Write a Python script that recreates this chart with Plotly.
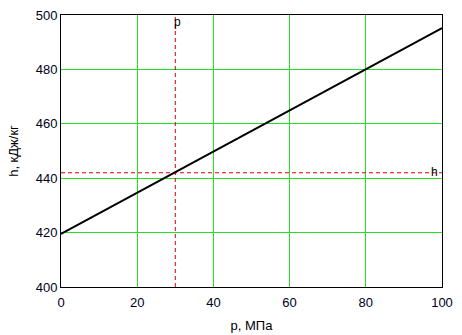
import plotly.graph_objects as go

# data
p_vals = [0, 20, 40, 60, 80, 100]
h_vals = [419.5, 434.6, 449.8, 464.9, 480.0, 495.2]
p_mark = 30
h_mark = 442
x_ticks = [0, 20, 40, 60, 80, 100]
y_ticks = [400, 420, 440, 460, 480, 500]

RED = "#dd0000"
GRID = "#22e022"
FONT = "Liberation Sans, Arial, sans-serif"

fig = go.Figure()
fig.add_trace(go.Scatter(x=[p_mark, p_mark], y=[400, 500], mode="lines",
                         line=dict(color=RED, width=1, dash="4px,3px"), hoverinfo="skip"))
fig.add_trace(go.Scatter(x=[0, 100], y=[h_mark, h_mark], mode="lines",
                         line=dict(color=RED, width=1, dash="4px,3px"), hoverinfo="skip"))
fig.add_trace(go.Scatter(x=p_vals, y=h_vals, mode="lines",
                         line=dict(color="black", width=2)))

fig.add_annotation(x=p_mark, y=500, yshift=-7, text="p", showarrow=False, xanchor="left",
                   xshift=-3, font=dict(size=12, color="black", family=FONT))
fig.add_annotation(x=100, y=h_mark, text="h", showarrow=False, xanchor="right", yanchor="middle",
                   xshift=-2, yshift=1, font=dict(size=12, color="black", family=FONT))

axis_common = dict(showline=True, linecolor="black", linewidth=1, mirror=True,
                   showgrid=True, gridcolor=GRID, gridwidth=1, zeroline=False,
                   automargin=False,
                   ticks="", tickfont=dict(size=13, color="#000020", family=FONT))

fig.update_layout(
    width=462, height=335,
    margin=dict(l=61, r=20, t=15, b=48),
    paper_bgcolor="white", plot_bgcolor="white",
    showlegend=False,
    font=dict(family=FONT, size=13, color="black"),
    xaxis=dict(range=[0, 100], tickvals=x_ticks, ticklabelstandoff=3,
               title=dict(text="p, МПа", font=dict(size=13, family=FONT), standoff=12),
               **axis_common),
    yaxis=dict(range=[400, 500], tickvals=y_ticks, ticklabelstandoff=0,
               title=dict(text="h, кДж/кг", font=dict(size=13, family=FONT), standoff=14),
               **axis_common),
)

fig.write_html("out.html")
